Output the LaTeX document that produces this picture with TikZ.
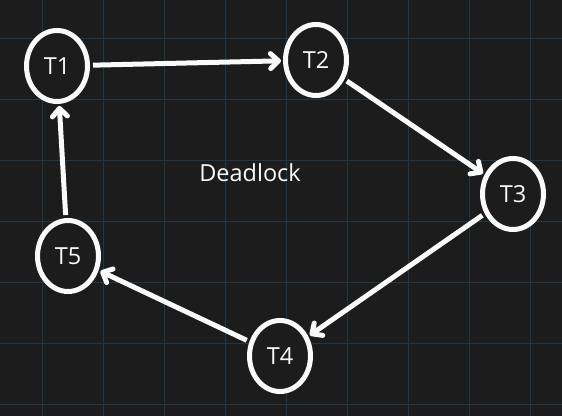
\documentclass[tikz,border=0pt]{standalone}
\usepackage{fontspec}
\setmainfont{Open Sans}
\usetikzlibrary{arrows.meta,shapes.geometric}
\definecolor{board}{HTML}{1C1C1C}
\definecolor{gridline}{HTML}{1D3846}
\definecolor{chalk}{HTML}{FAFAFA}

\begin{document}
\begin{tikzpicture}[x=1pt,y=-1pt,>={Straight Barb[length=8pt,width=15pt,round]},
  every node/.style={font=\fontsize{23.5}{26}\selectfont,text=chalk},
  thread/.style={draw=chalk,line width=5pt,fill=board,ellipse,minimum width=61pt,minimum height=71pt,inner sep=0pt},
  wait/.style={->,draw=chalk,line width=5pt,shorten <=3pt,shorten >=2pt}]
  \fill[board] (0,0) rectangle (562,416);
  \useasboundingbox (0,0) rectangle (562,416);
  \foreach \gx in {42,103,164,225,286,347,408,469,530} \draw[gridline,line width=1pt] (\gx,0)--(\gx,416);
  \foreach \gy in {38,99,160,221,282,343,404} \draw[gridline,line width=1pt] (0,\gy)--(562,\gy);
  \node[thread] (t1) at (57,66) {T1};
  \node[thread] (t2) at (316,60) {T2};
  \node[thread] (t3) at (513,194) {T3};
  \node[thread] (t4) at (280,356) {T4};
  \node[thread] (t5) at (68,256) {T5};
  \node (dl) at (250,173) {Deadlock};
  \draw[wait] (t1)--(t2); \draw[wait] (t2)--(t3); \draw[wait] (t3)--(t4);
  \draw[wait] (t4)--(t5); \draw[wait] (t5)--(t1);
\end{tikzpicture}
\end{document}
